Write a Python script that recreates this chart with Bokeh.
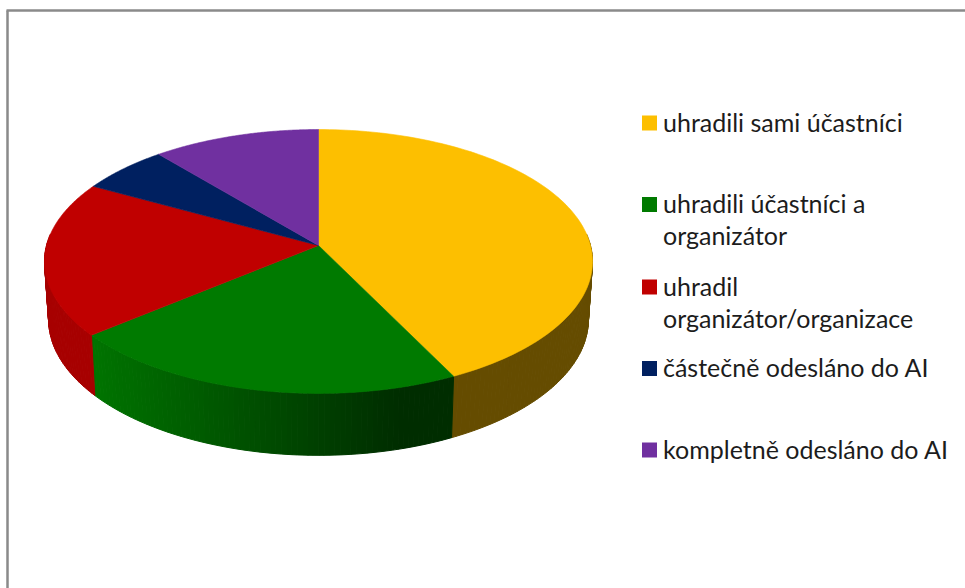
import numpy as np
from bokeh.plotting import figure
from bokeh.models import Range1d
from bokeh.core.properties import value
from bokeh.embed import file_html
from bokeh.resources import INLINE

categories = ["uhradili sami účastníci", "uhradili účastníci a\norganizátor",
              "uhradil\norganizátor/organizace", "částečně odesláno do AI",
              "kompletně odesláno do AI"]
shares = [42.7, 21.3, 19.0, 5.9, 11.1]
top_colors = ["#FDBF00", "#007A00", "#C00000", "#002060", "#7030A0"]

W, H = 965, 588
CX, CY = 318, 245
A, B, K = 272.0, 130.0, 0.121
DROP, SHRINK_X, STRETCH_Y = 57.5, 0.985, 1.03


def rim(t):
    u, v = np.sin(t), np.cos(t)
    w = 1 + K * v
    return CX + A * u / w, CY - B * v / w


def lower(x, y):
    return CX + SHRINK_X * (x - CX), CY + DROP + STRETCH_Y * (y - CY)


def shade(hex_color, f):
    r, g, b = (int(hex_color[i:i + 2], 16) for i in (1, 3, 5))
    return "#%02x%02x%02x" % (int(r * f), int(g * f), int(b * f))


def side_factor(i, x):
    if i == 0:
        return 0.40
    if i == 1:
        return float(np.clip(0.95 - (0.95 - 0.37) * (x - 92) / (400 - 92), 0.37, 0.95))
    if i == 2:
        return 0.87
    return 0.8


p = figure(width=W, height=H, x_range=Range1d(0, W), y_range=Range1d(H, 0),
           output_backend="svg", toolbar_location=None, min_border=0,
           x_axis_type=None, y_axis_type=None, outline_line_color=None,
           background_fill_color="white", border_fill_color="white")
p.grid.visible = False

# chart frame
p.line([7, 7], [H, 10], line_color="#8A8A8A", line_width=2.5)
p.line([6, W], [10, 10], line_color="#8A8A8A", line_width=2.5)

edges = np.cumsum([0.0] + shares) / sum(shares) * 2 * np.pi

# side wall, painted back to front
sx, sy, sc = [], [], []
for i in range(len(shares)):
    a0, a1 = max(edges[i], np.radians(85)), min(edges[i + 1], np.radians(275))
    if a1 <= a0:
        continue
    n = max(2, int((a1 - a0) / np.radians(1.0)))
    ts = np.linspace(a0, a1, n + 1)
    for t0, t1 in zip(ts[:-1], ts[1:]):
        x0, y0 = rim(t0)
        x1, y1 = rim(t1)
        x2, y2 = lower(x1, y1)
        x3, y3 = lower(x0, y0)
        sx.append([x0, x1, x2, x3])
        sy.append([y0, y1, y2, y3])
        sc.append(shade(top_colors[i], side_factor(i, (x0 + x1) / 2)))
p.patches(sx, sy, fill_color=sc, line_color=sc, line_width=1)

# top face
tx, ty = [], []
for i in range(len(shares)):
    ts = np.linspace(edges[i], edges[i + 1], 120)
    xs, ys = rim(ts)
    tx.append([CX] + list(xs))
    ty.append([CY] + list(ys))
p.patches(tx, ty, fill_color=top_colors, line_color=top_colors, line_width=0.6)

# legend
marker_y = [122.5, 204, 286.5, 368, 449.5]
line_gap = 32
lx, ly, lt = [], [], []
for name, my in zip(categories, marker_y):
    for j, part in enumerate(name.split("\n")):
        lx.append(662.5)
        ly.append(my - 1.5 + j * line_gap)
        lt.append(part)
p.rect([649] * 5, marker_y, width=15, height=15,
       fill_color=top_colors, line_color=None)
p.text(lx, ly, text=lt, text_font=value("Lato"), text_font_size="25px",
       text_color="#1c1c1c", text_baseline="middle", text_align="left")

open("out.html", "w").write(file_html(p, INLINE))
